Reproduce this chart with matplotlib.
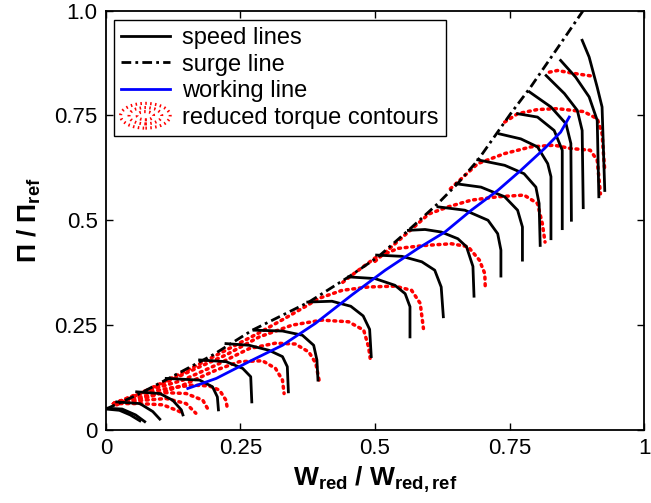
import matplotlib
matplotlib.use("Agg")
import matplotlib.pyplot as plt
from matplotlib.legend_handler import HandlerBase
from matplotlib.patches import Ellipse
from matplotlib.lines import Line2D

plt.rcParams['font.family'] = ['Liberation Sans', 'DejaVu Sans']
plt.rcParams['mathtext.fontset'] = 'custom'
plt.rcParams['mathtext.rm'] = 'Liberation Sans'
plt.rcParams['mathtext.bf'] = 'Liberation Sans:bold'

# ---------------- data ----------------
surge_x = [0, 0.06, 0.118, 0.2, 0.272, 0.377, 0.451, 0.506, 0.562, 0.617, 0.654, 0.691, 0.752, 0.789, 0.84, 0.887]
surge_y = [0.05, 0.085, 0.124, 0.18, 0.238, 0.305, 0.365, 0.413, 0.476, 0.54, 0.588, 0.643, 0.754, 0.817, 0.912, 1.0]

working_x = [0.152, 0.205, 0.266, 0.328, 0.389, 0.457, 0.519, 0.58, 0.63, 0.679, 0.728, 0.771, 0.815, 0.845, 0.861]
working_y = [0.099, 0.123, 0.163, 0.202, 0.254, 0.322, 0.381, 0.433, 0.472, 0.524, 0.571, 0.619, 0.671, 0.71, 0.746]

speed_x = [
    [0, 0.025, 0.045, 0.063],
    [0, 0.03, 0.055, 0.072],
    [0.02, 0.063, 0.087, 0.1],
    [0.057, 0.1, 0.124, 0.14, 0.143],
    [0.112, 0.174, 0.198, 0.207, 0.209],
    [0.174, 0.223, 0.254, 0.269, 0.271],
    [0.223, 0.266, 0.303, 0.328, 0.337, 0.339],
    [0.275, 0.328, 0.365, 0.386, 0.392, 0.394],
    [0.375, 0.42, 0.455, 0.478, 0.49, 0.493],
    [0.451, 0.5, 0.537, 0.556, 0.565, 0.565],
    [0.503, 0.55, 0.587, 0.611, 0.623, 0.627],
    [0.562, 0.593, 0.623, 0.654, 0.67, 0.682, 0.684],
    [0.617, 0.667, 0.71, 0.728, 0.734, 0.734],
    [0.651, 0.697, 0.741, 0.765, 0.774, 0.774],
    [0.691, 0.741, 0.777, 0.799, 0.805, 0.807],
    [0.731, 0.771, 0.802, 0.821, 0.827, 0.827],
    [0.765, 0.802, 0.833, 0.848, 0.848],
    [0.787, 0.827, 0.855, 0.864, 0.865],
    [0.818, 0.852, 0.876, 0.885, 0.887],
    [0.845, 0.873, 0.898, 0.913, 0.916],
    [0.885, 0.898, 0.913, 0.922, 0.927],
]
speed_y = [
    [0.05, 0.047, 0.036, 0.022],
    [0.052, 0.05, 0.036, 0.02],
    [0.067, 0.063, 0.044, 0.026],
    [0.091, 0.087, 0.071, 0.048, 0.036],
    [0.123, 0.119, 0.103, 0.079, 0.048],
    [0.167, 0.163, 0.147, 0.127, 0.067],
    [0.206, 0.202, 0.19, 0.175, 0.151, 0.091],
    [0.238, 0.236, 0.226, 0.202, 0.167, 0.119],
    [0.305, 0.307, 0.295, 0.272, 0.24, 0.175],
    [0.365, 0.361, 0.345, 0.325, 0.294, 0.222],
    [0.417, 0.414, 0.401, 0.381, 0.341, 0.27],
    [0.476, 0.478, 0.472, 0.456, 0.437, 0.39, 0.319],
    [0.532, 0.524, 0.5, 0.468, 0.429, 0.367],
    [0.587, 0.579, 0.556, 0.524, 0.484, 0.405],
    [0.644, 0.631, 0.611, 0.579, 0.54, 0.44],
    [0.706, 0.694, 0.675, 0.635, 0.604, 0.456],
    [0.754, 0.746, 0.714, 0.667, 0.48],
    [0.806, 0.77, 0.73, 0.683, 0.5],
    [0.845, 0.802, 0.762, 0.714, 0.53],
    [0.881, 0.841, 0.794, 0.738, 0.556],
    [0.929, 0.889, 0.817, 0.77, 0.571],
]

torque_x = [
    [0.824, 0.839, 0.87, 0.907],
    [0.741, 0.765, 0.802, 0.839, 0.888, 0.913, 0.922, 0.925, 0.927],
    [0.64, 0.691, 0.741, 0.79, 0.833, 0.864, 0.9, 0.913, 0.916, 0.919],
    [0.5, 0.562, 0.6, 0.636, 0.679, 0.728, 0.777, 0.802, 0.811, 0.816],
    [0.44, 0.463, 0.5, 0.543, 0.593, 0.642, 0.673, 0.694, 0.704, 0.705],
    [0.02, 0.1, 0.17, 0.23, 0.285, 0.335, 0.37, 0.396, 0.439, 0.488, 0.537, 0.568, 0.584, 0.59],
    [0.014, 0.1, 0.161, 0.223, 0.285, 0.346, 0.401, 0.451, 0.479, 0.488, 0.491],
    [0.014, 0.081, 0.143, 0.205, 0.266, 0.315, 0.352, 0.377, 0.39, 0.396],
    [0.014, 0.081, 0.143, 0.205, 0.248, 0.291, 0.315, 0.328, 0.331],
    [0.014, 0.06, 0.118, 0.161, 0.192, 0.211, 0.223, 0.226],
    [0.014, 0.063, 0.112, 0.149, 0.18, 0.192],
    [0.014, 0.069, 0.112, 0.149, 0.167],
    [0.014, 0.063, 0.106, 0.137, 0.143],
]
torque_y = [
    [0.853, 0.857, 0.85, 0.843],
    [0.734, 0.754, 0.764, 0.766, 0.759, 0.742, 0.707, 0.652, 0.619],
    [0.575, 0.635, 0.659, 0.675, 0.679, 0.671, 0.667, 0.643, 0.603, 0.563],
    [0.402, 0.472, 0.515, 0.532, 0.548, 0.556, 0.56, 0.54, 0.492, 0.448],
    [0.352, 0.375, 0.41, 0.433, 0.44, 0.444, 0.437, 0.405, 0.373, 0.337],
    [0.06, 0.11, 0.155, 0.195, 0.232, 0.268, 0.294, 0.314, 0.333, 0.341, 0.343, 0.333, 0.302, 0.242],
    [0.063, 0.107, 0.143, 0.179, 0.222, 0.25, 0.262, 0.258, 0.238, 0.198, 0.171],
    [0.063, 0.095, 0.119, 0.155, 0.194, 0.207, 0.205, 0.186, 0.159, 0.119],
    [0.063, 0.079, 0.107, 0.143, 0.163, 0.165, 0.147, 0.119, 0.087],
    [0.063, 0.085, 0.1, 0.107, 0.105, 0.095, 0.071, 0.048],
    [0.063, 0.079, 0.089, 0.087, 0.071, 0.044],
    [0.063, 0.071, 0.075, 0.063, 0.04],
    [0.063, 0.063, 0.06, 0.044, 0.036],
]

x_ticks = [0, 0.25, 0.5, 0.75, 1]
x_ticklabels = ['0', '0.25', '0.5', '0.75', '1']
y_ticks = [0, 0.25, 0.5, 0.75, 1.0]
y_ticklabels = ['0', '0.25', '0.5', '0.75', '1.0']

legend_labels = ['speed lines', 'surge line', 'working line', 'reduced torque contours']

# ---------------- styles ----------------
RED_DOT = (0, (0.55, 1.35))
DASHDOT = (0, (3.5, 1.5, 1, 1.5))
LW = 2.0


class ContourHandler(HandlerBase):
    def create_artists(self, legend, orig_handle, xdescent, ydescent,
                       width, height, fontsize, trans):
        cx = width / 2 - xdescent
        cy = height / 2 - ydescent
        arts = []
        for s in [1.0, 0.66, 0.33]:
            e = Ellipse((cx, cy), width * s, height * 1.5 * s, fill=False,
                        edgecolor='red', linestyle=(0, (0.5, 1.1)), linewidth=2.2,
                        transform=trans)
            arts.append(e)
        return arts


fig = plt.figure(figsize=(6.51, 5.03), dpi=100)
ax = fig.add_axes([0.1628, 0.1451, 0.8265, 0.834])

for xs, ys in zip(torque_x, torque_y):
    ax.plot(xs, ys, color='red', linestyle=RED_DOT, linewidth=2.5, dash_capstyle='round')
for xs, ys in zip(speed_x, speed_y):
    ax.plot(xs, ys, color='black', linewidth=LW)
ax.plot(surge_x, surge_y, color='black', linestyle=DASHDOT, linewidth=LW)
ax.plot(working_x, working_y, color='blue', linewidth=LW)

ax.set_xlim(0, 1)
ax.set_ylim(0, 1)
ax.set_xticks(x_ticks)
ax.set_xticklabels(x_ticklabels)
ax.set_yticks(y_ticks)
ax.set_yticklabels(y_ticklabels)
ax.tick_params(direction='in', top=True, right=True, length=5, width=1,
               labelsize=16, pad=6)
for sp in ax.spines.values():
    sp.set_linewidth(1.3)

ax.set_xlabel(r'$\mathbf{W_{red}\;/\;W_{red,ref}}$', fontsize=19, labelpad=4)
ax.set_ylabel(r'$\mathbf{\Pi\;/\;\Pi_{ref}}$', fontsize=19, labelpad=8)

h_speed = Line2D([], [], color='black', linewidth=LW)
h_surge = Line2D([], [], color='black', linestyle=DASHDOT, linewidth=LW)
h_work = Line2D([], [], color='blue', linewidth=LW)
h_cont = Line2D([], [], color='red')
leg = ax.legend([h_speed, h_surge, h_work, h_cont], legend_labels,
                handler_map={h_cont: ContourHandler()},
                loc='upper left', bbox_to_anchor=(0.014, 0.978),
                fontsize=17, frameon=True, fancybox=False, framealpha=1,
                edgecolor='black', handlelength=2.1, handletextpad=0.5,
                borderpad=0.3, labelspacing=0.2, borderaxespad=0)
leg.get_frame().set_linewidth(1.0)

fig.savefig('out.png', dpi=100)
